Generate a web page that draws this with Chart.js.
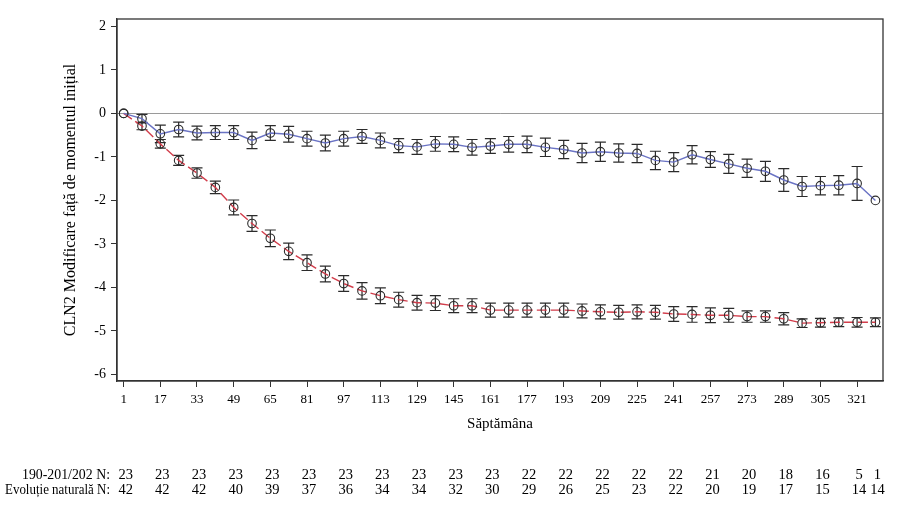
<!DOCTYPE html>
<html>
<head>
<meta charset="utf-8">
<script src="https://cdn.jsdelivr.net/npm/chart.js@4/dist/chart.umd.min.js"></script>
<style>
  body { margin: 0; background: #fff; }
  #wrap { width: 920px; height: 516px; position: relative; }
</style>
</head>
<body>
<div id="wrap"><canvas id="cln2Chart"></canvas></div>
<script>
// weeks at which values were measured (every 8 weeks)
const weeks = [1, 9, 17, 25, 33, 41, 49, 57, 65, 73, 81, 89, 97, 105, 113, 121, 129, 137, 145, 153, 161,
    169, 177, 185, 193, 201, 209, 217, 225, 233, 241, 249, 257, 265, 273, 281, 289, 297, 305, 313, 321, 329];

// 190-201/202 (blue, solid)
const treatedMean = [0, -0.12, -0.47, -0.37, -0.45, -0.44, -0.44, -0.62, -0.45, -0.48, -0.58, -0.68, -0.58, -0.53,
    -0.62, -0.74, -0.77, -0.70, -0.71, -0.78, -0.75, -0.71, -0.71, -0.78, -0.83, -0.91, -0.88, -0.91, -0.92,
    -1.08, -1.12, -0.95, -1.06, -1.16, -1.26, -1.33, -1.53, -1.68, -1.66, -1.65, -1.61, -2.00];
const treatedErr = [0, 0.10, 0.20, 0.17, 0.16, 0.16, 0.16, 0.19, 0.17, 0.18, 0.17, 0.18, 0.17, 0.16,
    0.17, 0.16, 0.17, 0.17, 0.17, 0.18, 0.17, 0.18, 0.19, 0.21, 0.21, 0.22, 0.22, 0.21, 0.21,
    0.21, 0.22, 0.21, 0.18, 0.22, 0.21, 0.23, 0.26, 0.23, 0.21, 0.22, 0.39, 0];

// natural history (red, dashed)
const naturalMean = [0, -0.29, -0.70, -1.08, -1.37, -1.70, -2.16, -2.53, -2.87, -3.17, -3.43, -3.69, -3.91, -4.08,
    -4.19, -4.28, -4.35, -4.36, -4.42, -4.42, -4.52, -4.52, -4.52, -4.52, -4.52, -4.54, -4.56, -4.57, -4.56,
    -4.57, -4.61, -4.62, -4.64, -4.64, -4.67, -4.67, -4.72, -4.82, -4.81, -4.80, -4.80, -4.80];
const naturalErr = [0, 0.085, 0.10, 0.115, 0.12, 0.145, 0.17, 0.18, 0.19, 0.19, 0.18, 0.18, 0.18, 0.19,
    0.18, 0.17, 0.17, 0.17, 0.16, 0.16, 0.16, 0.16, 0.16, 0.16, 0.16, 0.16, 0.16, 0.16, 0.16,
    0.16, 0.17, 0.18, 0.17, 0.16, 0.13, 0.13, 0.14, 0.10, 0.10, 0.10, 0.11, 0.10];

const xTicks = [1, 17, 33, 49, 65, 81, 97, 113, 129, 145, 161, 177, 193, 209, 225, 241, 257, 273, 289, 305, 321];
const yTicks = [-6, -5, -4, -3, -2, -1, 0, 1, 2];

// patients at risk table under the axis
const nWeeks = [1, 17, 33, 49, 65, 81, 97, 113, 129, 145, 161, 177, 193, 209, 225, 241, 257, 273, 289, 305, 321, 329];
const nTreated = [23, 23, 23, 23, 23, 23, 23, 23, 23, 23, 23, 22, 22, 22, 22, 22, 21, 20, 18, 16, 5, 1];
const nNatural = [42, 42, 42, 40, 39, 37, 36, 34, 34, 32, 30, 29, 26, 25, 23, 22, 20, 19, 17, 15, 14, 14];
const nLabels = ["190-201/202 N:", "Evoluție naturală N:"];

const SERIF = "'Liberation Serif', 'DejaVu Serif', serif";

const toPoints = (means, errs) => weeks.map((w, i) => ({ x: w, y: means[i], err: errs[i] }));

const errorBars = {
    id: "errorBars",
    beforeDatasetsDraw(chart) {
        const { ctx, scales } = chart;
        ctx.save();
        ctx.strokeStyle = "#2b2b2b";
        ctx.lineWidth = 1.2;
        chart.data.datasets.forEach(ds => {
            ds.data.forEach(p => {
                if (!p.err) return;
                const x = scales.x.getPixelForValue(p.x);
                const y1 = scales.y.getPixelForValue(p.y + p.err);
                const y2 = scales.y.getPixelForValue(p.y - p.err);
                ctx.beginPath();
                ctx.moveTo(x, y1); ctx.lineTo(x, y2);
                ctx.moveTo(x - 5.5, y1); ctx.lineTo(x + 5.5, y1);
                ctx.moveTo(x - 5.5, y2); ctx.lineTo(x + 5.5, y2);
                ctx.stroke();
            });
        });
        ctx.restore();
    }
};

const frameAndTable = {
    id: "frameAndTable",
    afterDraw(chart) {
        const { ctx, chartArea, scales } = chart;
        ctx.save();
        ctx.strokeStyle = "#333";
        ctx.lineWidth = 1.3;
        ctx.strokeRect(chartArea.left, chartArea.top, chartArea.right - chartArea.left, chartArea.bottom - chartArea.top);

        ctx.fillStyle = "#000";
        ctx.font = "14px " + SERIF;
        ctx.textBaseline = "middle";
        ctx.textAlign = "right";
        ctx.fillText(nLabels[0], 110, 475, 88);
        ctx.fillText(nLabels[1], 110, 490, 105);
        ctx.textAlign = "center";
        ctx.font = "14.5px " + SERIF;
        nWeeks.forEach((w, i) => {
            const x = scales.x.getPixelForValue(w) + 2;
            ctx.fillText(String(nTreated[i]), x, 475);
            ctx.fillText(String(nNatural[i]), x, 490);
        });
        ctx.restore();
    }
};

new Chart(document.getElementById("cln2Chart").getContext("2d"), {
    type: "line",
    data: {
        datasets: [
            {
                label: "190-201/202",
                data: toPoints(treatedMean, treatedErr),
                borderColor: "#6a73c4",
                borderWidth: 1.4,
                pointRadius: 4.3,
                pointBorderColor: "#2b2b2b",
                pointBorderWidth: 1.1,
                pointBackgroundColor: "rgba(0,0,0,0)",
                tension: 0
            },
            {
                label: "Evoluție naturală",
                data: toPoints(naturalMean, naturalErr),
                borderColor: "#d23d4b",
                borderWidth: 1.4,
                borderDash: [10, 4],
                pointRadius: 4.3,
                pointBorderColor: "#2b2b2b",
                pointBorderWidth: 1.1,
                pointBackgroundColor: "rgba(0,0,0,0)",
                tension: 0
            }
        ]
    },
    options: {
        responsive: true,
        maintainAspectRatio: false,
        animation: false,
        layout: { padding: { top: 19, right: 37, left: 0, bottom: 0 } },
        plugins: {
            legend: { display: false },
            tooltip: { enabled: false }
        },
        scales: {
            x: {
                type: "linear",
                min: -1.9,
                max: 332.3,
                afterFit: s => { s.height = 135; },
                afterBuildTicks: s => { s.ticks = xTicks.map(v => ({ value: v })); },
                ticks: {
                    color: "#000",
                    font: { family: SERIF, size: 13 },
                    padding: 5,
                    maxRotation: 0,
                    autoSkip: false
                },
                grid: {
                    drawOnChartArea: false,
                    tickLength: 6,
                    tickColor: "#333"
                },
                border: { color: "#333", width: 1.3 },
                title: {
                    display: true,
                    text: "Săptămâna",
                    color: "#000",
                    font: { family: SERIF, size: 15 },
                    padding: { top: 0, bottom: 83 }
                }
            },
            y: {
                min: -6.15,
                max: 2.17,
                afterFit: s => { s.width = 117; },
                afterBuildTicks: s => { s.ticks = yTicks.map(v => ({ value: v })); },
                ticks: {
                    color: "#000",
                    font: { family: SERIF, size: 14 },
                    padding: 5
                },
                grid: {
                    color: c => (c.tick && c.tick.value === 0 ? "#9a9a9a" : "rgba(0,0,0,0)"),
                    tickColor: "#333",
                    tickLength: 6
                },
                border: { color: "#333", width: 1.3 },
                title: {
                    display: true,
                    text: "CLN2 Modificare față de momentul inițial",
                    color: "#000",
                    font: { family: SERIF, size: 16 },
                    padding: { top: 61, bottom: 0 }
                }
            }
        }
    },
    plugins: [errorBars, frameAndTable]
});
</script>
</body>
</html>
